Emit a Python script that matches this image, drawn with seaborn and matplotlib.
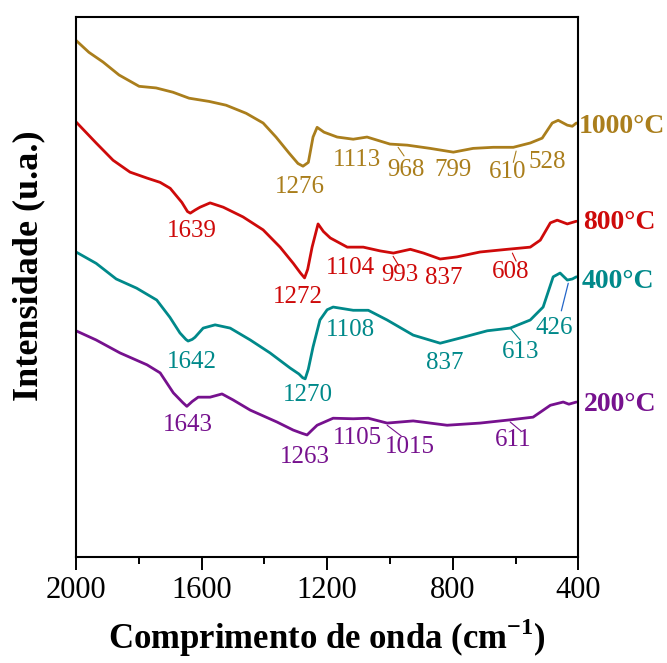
import numpy as np
import pandas as pd
import matplotlib
matplotlib.use("Agg")
import matplotlib.pyplot as plt
import seaborn as sns

# ---- FTIR spectra (wavenumber in cm-1, intensity in a.u.) ----
wn_1000 = [2000, 1959, 1914, 1863, 1799, 1745, 1691, 1640, 1576, 1522, 1458, 1404,
           1363, 1321, 1293, 1277, 1260, 1245, 1232, 1210, 1168, 1117, 1073, 1000,
           945, 872, 798, 735, 671, 607, 553, 515, 483, 464, 435, 419, 406]
int_1000 = [95.7, 93.5, 91.7, 89.3, 87.2, 86.9, 86.1, 85.0, 84.4, 83.7, 82.2, 80.4,
            77.8, 74.8, 72.9, 72.4, 73.1, 77.8, 79.6, 78.7, 77.8, 77.4, 77.8, 76.5,
            76.3, 75.7, 75.0, 75.7, 75.9, 75.9, 76.7, 77.6, 80.4, 80.9, 80.0, 79.8, 80.4]

wn_800 = [2000, 1936, 1882, 1828, 1774, 1732, 1700, 1663, 1645, 1636, 1620, 1605,
          1573, 1531, 1468, 1404, 1350, 1308, 1285, 1272, 1262, 1248, 1229, 1212,
          1190, 1136, 1085, 1031, 989, 935, 893, 840, 786, 713, 626, 553, 521, 489,
          467, 435, 406]
int_800 = [80.6, 76.7, 73.5, 71.3, 70.2, 69.4, 68.3, 65.7, 64.0, 63.7, 64.3, 64.8,
           65.6, 64.8, 63.0, 60.6, 57.4, 54.4, 52.6, 51.7, 53.3, 57.4, 61.7, 60.3,
           59.1, 57.4, 57.4, 56.7, 56.3, 57.0, 56.3, 55.2, 55.6, 56.5, 57.0, 57.4,
           58.7, 61.9, 62.4, 61.7, 62.2]

wn_400 = [2000, 1936, 1872, 1807, 1743, 1701, 1669, 1650, 1643, 1630, 1621, 1595,
          1557, 1509, 1445, 1382, 1318, 1290, 1278, 1270, 1260, 1245, 1223, 1200,
          1181, 1117, 1069, 1009, 926, 840, 767, 690, 617, 553, 512, 480, 458,
          435, 419, 406]
int_400 = [56.5, 54.4, 51.5, 49.8, 47.6, 44.4, 41.5, 40.3, 40.0, 40.3, 40.7, 42.4,
           43.0, 42.4, 40.2, 37.8, 35.0, 33.9, 33.2, 33.0, 34.8, 38.9, 43.9, 45.8,
           46.3, 45.7, 45.7, 43.9, 41.1, 39.6, 40.7, 41.9, 42.4, 43.9, 46.3, 51.9,
           52.6, 51.3, 51.5, 51.9]

wn_200 = [2000, 1936, 1860, 1774, 1732, 1690, 1660, 1647, 1630, 1611, 1573, 1535,
          1500, 1445, 1360, 1308, 1280, 1264, 1250, 1232, 1181, 1117, 1069, 1009,
          926, 818, 713, 617, 544, 489, 448, 430, 406]
int_200 = [41.9, 40.2, 37.8, 35.6, 34.1, 30.4, 28.6, 27.9, 28.8, 29.6, 29.6, 30.2,
           29.1, 27.2, 25.0, 23.5, 22.9, 22.6, 23.4, 24.4, 25.7, 25.6, 25.7, 24.8,
           25.2, 24.4, 24.8, 25.4, 25.9, 28.1, 28.7, 28.3, 28.7]

series_names = ["1000°C", "800°C", "400°C", "200°C"]
series_colors = ["#AA7E1C", "#CE0A0A", "#00898A", "#76118E"]

# Peak annotations: (text, wavenumber, intensity) per series
peaks_1000 = [("1276", 1286, 68.5), ("1113", 1105, 73.5), ("968", 948, 71.7),
              ("799", 798, 71.7), ("610", 626, 71.3), ("528", 499, 73.1)]
peaks_800 = [("1639", 1630, 60.4), ("1272", 1292, 48.1), ("1104", 1127, 53.5),
             ("993", 967, 52.2), ("837", 830, 51.7), ("608", 617, 52.8)]
peaks_400 = [("1642", 1630, 36.1), ("1270", 1260, 30.0), ("1108", 1127, 42.0),
             ("837", 824, 35.9), ("613", 585, 38.0), ("426", 477, 42.4)]
peaks_200 = [("1643", 1643, 24.4), ("1263", 1270, 18.5), ("1105", 1105, 22.0),
             ("1015", 935, 20.4), ("611", 607, 21.7)]

# Short leader lines from band to label: (w0, y0, w1, y1)
leaders_1000 = [(974, 75.9, 955, 74.3), (598, 75.2, 607, 73.1)]
leaders_800 = [(990, 55.7, 971, 53.9), (610, 56.3, 598, 54.8)]
leaders_400 = [(617, 42.4, 585, 40.2)]
leaders_200 = [(1009, 24.4, 964, 22.4), (617, 25.0, 582, 23.3)]
leader_426 = (432, 50.7, 454, 45.6)

# Series label anchor (wavenumber, intensity)
label_pos = [(398, 79.8), (386, 61.9), (389, 51.0), (383, 28.3)]

# ---- style ----
sns.set_theme(style="white")
plt.rcParams["font.family"] = ["Liberation Serif", "DejaVu Serif"]
plt.rcParams["mathtext.fontset"] = "custom"
plt.rcParams["mathtext.rm"] = "Liberation Serif"
plt.rcParams["mathtext.bf"] = "Liberation Serif:bold"
plt.rcParams["text.color"] = "black"
plt.rcParams["axes.labelcolor"] = "black"
plt.rcParams["xtick.color"] = "black"

frames = []
for name, wn, it in zip(series_names,
                        [wn_1000, wn_800, wn_400, wn_200],
                        [int_1000, int_800, int_400, int_200]):
    frames.append(pd.DataFrame({"wavenumber": wn, "intensity": it, "sample": name}))
df = pd.concat(frames, ignore_index=True)

fig = plt.figure(figsize=(6.67, 6.63), dpi=100)
ax = fig.add_axes([0.114, 0.160, 0.753, 0.814])

sns.lineplot(data=df, x="wavenumber", y="intensity", hue="sample",
             hue_order=series_names, palette=series_colors,
             estimator=None, sort=True, linewidth=2.0, legend=False, ax=ax)

ax.set_xlim(2000, 400)
ax.set_ylim(0, 100)
ax.set_xticks([2000, 1600, 1200, 800, 400])
ax.set_xticks([1800, 1400, 1000, 600], minor=True)
ax.set_yticks([])
ax.tick_params(axis="x", which="major", direction="out", length=9, width=1.4,
               labelsize=22, pad=5, bottom=True, colors="black")
ax.tick_params(axis="x", which="minor", direction="out", length=5, width=1.4,
               bottom=True, colors="black")
for sp in ax.spines.values():
    sp.set_linewidth(1.5)
    sp.set_color("black")

ax.set_xlabel("Comprimento de onda (cm$^{\\mathbf{-1}}$)", fontsize=25,
              fontweight="bold", labelpad=8, color="black")
ax.set_ylabel("Intensidade (u.a.)", fontsize=26, fontweight="bold", color="black")
ax.yaxis.set_label_coords(-0.062, 0.539)

peak_sets = [peaks_1000, peaks_800, peaks_400, peaks_200]
leader_sets = [leaders_1000, leaders_800, leaders_400, leaders_200]
for color, peaks, leaders, name, (lx, ly) in zip(series_colors, peak_sets,
                                                 leader_sets, series_names, label_pos):
    for txt, w, y in peaks:
        ax.text(w, y, txt, color=color, fontsize=18, ha="center", va="center")
    for w0, y0, w1, y1 in leaders:
        ax.plot([w0, w1], [y0, y1], color=color, linewidth=0.8)
    ax.text(lx, ly, name, color=color, fontsize=20, fontweight="bold",
            ha="left", va="center", clip_on=False)

ax.plot([leader_426[0], leader_426[2]], [leader_426[1], leader_426[3]],
        color="#2466C8", linewidth=0.9)

fig.savefig("out.png", dpi=100)
